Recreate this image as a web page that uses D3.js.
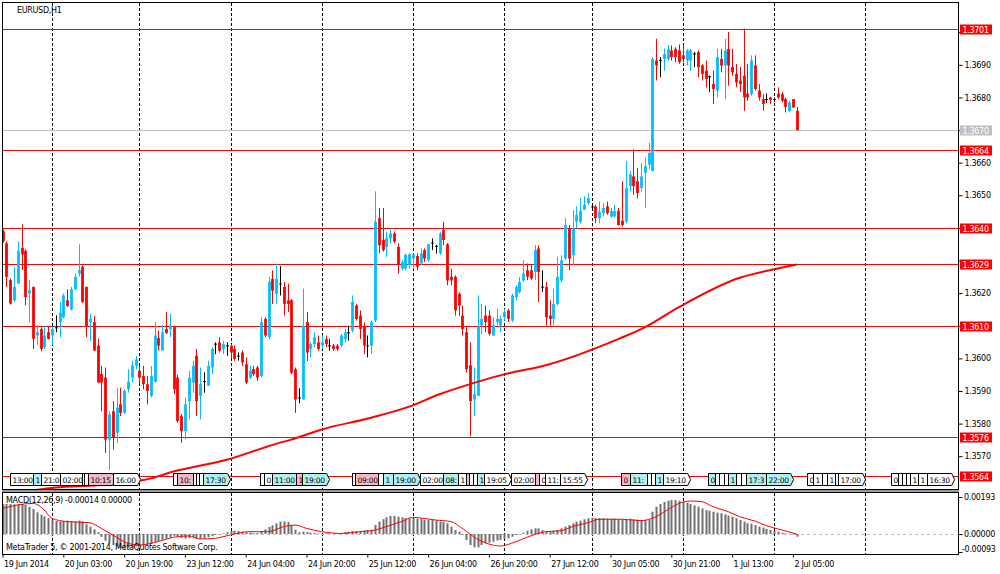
<!DOCTYPE html>
<html>
<head>
<meta charset="utf-8">
<script src="https://d3js.org/d3.v7.min.js"></script>
<style>
	html, body { margin: 0; padding: 0; background: #fff; }
	svg { display: block; font-family: "DejaVu Sans", sans-serif; }
	text { font-size: 8px; letter-spacing: -0.3px; }
</style>
</head>
<body>
<svg id="chart" width="1000" height="574"></svg>
<script>
// EURUSD H1, 19 Jun 2014 11:00 .. 2 Jul 2014 06:00, one entry per bar
var opens = [
	1.36389,1.36353,1.36240,1.36178,1.36229,1.36339,1.36330,1.36199,1.36219,1.36070,
	1.36090,1.36034,1.36080,1.36070,1.36095,1.36111,1.36126,1.36178,1.36150,1.36212,
	1.36260,1.36281,1.36219,1.36111,1.36111,1.36039,1.35952,1.35941,1.35751,1.35838,
	1.35772,1.35859,1.35833,1.35905,1.35941,1.35977,1.35962,1.35946,1.35921,1.35885,
	1.35928,1.36062,1.36024,1.36090,1.36090,1.36096,1.35941,1.35823,1.35777,1.35869,
	1.35926,1.36008,1.35885,1.35930,1.35916,1.35972,1.36045,1.36049,1.36029,1.36040,
	1.36039,1.36029,1.36008,1.36018,1.35982,1.35941,1.35967,1.35972,1.35946,1.36121,
	1.36065,1.36244,1.36198,1.36230,1.36219,1.36178,1.36178,1.35967,1.35880,1.35874,
	1.36111,1.36029,1.36044,1.36049,1.36039,1.36059,1.36040,1.36039,1.36039,1.36039,
	1.36059,1.36080,1.36085,1.36162,1.36131,1.36100,1.36040,1.36039,1.36116,1.36430,
	1.36363,1.36342,1.36368,1.36383,1.36342,1.36275,1.36275,1.36286,1.36306,1.36314,
	1.36291,1.36332,1.36301,1.36355,1.36345,1.36322,1.36394,1.36350,1.36250,1.36250,
	1.36198,1.36131,1.36080,1.35979,1.35874,1.35885,1.36101,1.36131,1.36131,1.36070,
	1.36111,1.36101,1.36126,1.36147,1.36116,1.36188,1.36203,1.36239,1.36270,1.36270,
	1.36265,1.36337,1.36220,1.36219,1.36131,1.36121,1.36167,1.36239,1.36306,1.36399,
	1.36316,1.36419,1.36419,1.36456,1.36476,1.36466,1.36466,1.36430,1.36445,1.36466,
	1.36435,1.36435,1.36452,1.36422,1.36420,1.36528,1.36558,1.36543,1.36522,1.36569,
	1.36594,1.36574,1.36913,1.36915,1.36918,1.36918,1.36944,1.36949,1.36944,1.36929,
	1.36913,1.36913,1.36935,1.36939,1.36898,1.36882,1.36865,1.36841,1.36821,1.36918,
	1.36898,1.36949,1.36893,1.36872,1.36852,1.36867,1.36812,1.36810,1.36898,1.36821,
	1.36795,1.36795,1.36800,1.36795,1.36812,1.36810,1.36795,1.36759,1.36795,1.36759
];
var highs = [
	1.36395,1.36358,1.36245,1.36281,1.36358,1.36411,1.36335,1.36240,1.36220,1.36101,
	1.36095,1.36101,1.36099,1.36099,1.36132,1.36173,1.36199,1.36212,1.36219,1.36260,
	1.36350,1.36285,1.36220,1.36137,1.36130,1.36060,1.35977,1.35972,1.35838,1.35869,
	1.35910,1.35910,1.35905,1.35967,1.35993,1.36008,1.35977,1.35977,1.35946,1.35977,
	1.36111,1.36085,1.36101,1.36142,1.36137,1.36100,1.35950,1.35830,1.35880,1.35962,
	1.35993,1.36029,1.35972,1.35957,1.35993,1.36034,1.36049,1.36065,1.36054,1.36049,
	1.36044,1.36039,1.36018,1.36024,1.36003,1.35977,1.35977,1.35977,1.36126,1.36126,
	1.36250,1.36270,1.36291,1.36283,1.36234,1.36229,1.36182,1.35972,1.35908,1.36214,
	1.36142,1.36049,1.36080,1.36070,1.36070,1.36070,1.36059,1.36044,1.36044,1.36075,
	1.36090,1.36100,1.36193,1.36167,1.36147,1.36111,1.36070,1.36116,1.36512,1.36461,
	1.36461,1.36389,1.36394,1.36389,1.36353,1.36301,1.36322,1.36322,1.36322,1.36322,
	1.36337,1.36337,1.36350,1.36368,1.36348,1.36389,1.36419,1.36353,1.36275,1.36255,
	1.36203,1.36162,1.36100,1.36049,1.35972,1.36193,1.36167,1.36162,1.36147,1.36126,
	1.36152,1.36131,1.36152,1.36152,1.36198,1.36224,1.36249,1.36301,1.36291,1.36286,
	1.36347,1.36347,1.36270,1.36234,1.36178,1.36214,1.36311,1.36316,1.36430,1.36409,
	1.36455,1.36466,1.36491,1.36497,1.36507,1.36470,1.36471,1.36481,1.36476,1.36481,
	1.36461,1.36471,1.36461,1.36543,1.36605,1.36574,1.36641,1.36584,1.36599,1.36615,
	1.36661,1.36924,1.36980,1.36924,1.36950,1.36960,1.36960,1.36954,1.36963,1.36960,
	1.36949,1.36949,1.36939,1.36944,1.36903,1.36913,1.36867,1.36882,1.36949,1.36949,
	1.36980,1.37001,1.36949,1.36903,1.36893,1.37011,1.36903,1.36929,1.36929,1.36841,
	1.36810,1.36812,1.36802,1.36800,1.36831,1.36816,1.36800,1.36790,1.36795,1.36771
];
var lows = [
	1.36355,1.36219,1.36165,1.36173,1.36229,1.36271,1.36163,1.36111,1.36029,1.36041,
	1.36022,1.36029,1.36058,1.36041,1.36080,1.36065,1.36122,1.36158,1.36147,1.36208,
	1.36250,1.36170,1.36065,1.36054,1.36022,1.35924,1.35838,1.35710,1.35658,1.35720,
	1.35741,1.35823,1.35830,1.35895,1.35926,1.35967,1.35921,1.35905,1.35859,1.35880,
	1.35926,1.36024,1.36024,1.36075,1.36065,1.35890,1.35802,1.35741,1.35751,1.35813,
	1.35895,1.35823,1.35813,1.35895,1.35916,1.35952,1.36013,1.36018,1.36013,1.36008,
	1.35998,1.35993,1.35993,1.35977,1.35921,1.35936,1.35946,1.35931,1.35941,1.36065,
	1.36060,1.36167,1.36167,1.36193,1.36131,1.36142,1.35951,1.35833,1.35862,1.35874,
	1.35992,1.36003,1.36034,1.36023,1.36029,1.36034,1.36023,1.36023,1.36023,1.36034,
	1.36049,1.36054,1.36080,1.36116,1.36059,1.36013,1.36003,1.36013,1.36111,1.36322,
	1.36327,1.36311,1.36353,1.36353,1.36260,1.36270,1.36270,1.36275,1.36275,1.36270,
	1.36286,1.36296,1.36296,1.36332,1.36322,1.36317,1.36347,1.36224,1.36224,1.36131,
	1.36131,1.36070,1.35957,1.35761,1.35823,1.35885,1.36075,1.36080,1.36070,1.36070,
	1.36101,1.36080,1.36116,1.36111,1.36111,1.36178,1.36198,1.36234,1.36240,1.36240,
	1.36240,1.36173,1.36203,1.36101,1.36101,1.36101,1.36162,1.36234,1.36301,1.36270,
	1.36286,1.36399,1.36414,1.36456,1.36471,1.36460,1.36414,1.36414,1.36435,1.36440,
	1.36430,1.36432,1.36407,1.36404,1.36414,1.36512,1.36502,1.36491,1.36512,1.36461,
	1.36579,1.36574,1.36852,1.36862,1.36882,1.36913,1.36913,1.36908,1.36903,1.36908,
	1.36898,1.36882,1.36893,1.36862,1.36852,1.36831,1.36816,1.36780,1.36800,1.36877,
	1.36795,1.36836,1.36867,1.36831,1.36816,1.36759,1.36790,1.36805,1.36821,1.36790,
	1.36759,1.36782,1.36780,1.36785,1.36795,1.36785,1.36754,1.36754,1.36769,1.36699
];
var closes = [
	1.36360,1.36250,1.36168,1.36219,1.36330,1.36319,1.36188,1.36209,1.36060,1.36080,
	1.36029,1.36070,1.36060,1.36090,1.36095,1.36140,1.36193,1.36160,1.36212,1.36250,
	1.36271,1.36173,1.36096,1.36121,1.36024,1.35926,1.35926,1.35751,1.35828,1.35756,
	1.35849,1.35833,1.35900,1.35929,1.35979,1.35997,1.35941,1.35921,1.35900,1.35946,
	1.36070,1.36039,1.36080,1.36078,1.36101,1.35905,1.35808,1.35777,1.35859,1.35941,
	1.35977,1.35869,1.35921,1.35930,1.35977,1.36029,1.36045,1.36024,1.36044,1.36040,
	1.36018,1.35998,1.36008,1.35988,1.35926,1.35962,1.35952,1.35941,1.36111,1.36070,
	1.36235,1.36208,1.36244,1.36230,1.36167,1.36167,1.35956,1.35874,1.35880,1.36100,
	1.36018,1.36044,1.36065,1.36029,1.36049,1.36044,1.36040,1.36029,1.36029,1.36070,
	1.36080,1.36080,1.36173,1.36121,1.36090,1.36039,1.36040,1.36111,1.36419,1.36347,
	1.36332,1.36368,1.36383,1.36358,1.36286,1.36296,1.36317,1.36319,1.36319,1.36281,
	1.36322,1.36306,1.36350,1.36355,1.36345,1.36383,1.36363,1.36239,1.36239,1.36147,
	1.36162,1.36090,1.35967,1.35869,1.35890,1.36100,1.36121,1.36111,1.36075,1.36101,
	1.36121,1.36121,1.36142,1.36121,1.36193,1.36219,1.36234,1.36260,1.36250,1.36245,
	1.36332,1.36265,1.36220,1.36126,1.36121,1.36167,1.36250,1.36301,1.36409,1.36306,
	1.36399,1.36440,1.36452,1.36471,1.36491,1.36466,1.36430,1.36450,1.36461,1.36445,
	1.36452,1.36452,1.36409,1.36409,1.36522,1.36564,1.36528,1.36507,1.36558,1.36589,
	1.36630,1.36918,1.36898,1.36915,1.36933,1.36949,1.36924,1.36924,1.36908,1.36918,
	1.36944,1.36944,1.36935,1.36893,1.36872,1.36857,1.36865,1.36826,1.36924,1.36898,
	1.36944,1.36898,1.36877,1.36846,1.36841,1.36800,1.36800,1.36913,1.36826,1.36800,
	1.36780,1.36795,1.36792,1.36795,1.36800,1.36790,1.36771,1.36785,1.36769,1.36700
];

// MACD(12,26,9) main line, shown as histogram
var macdMain = [
	0.00153,0.00155,0.00155,0.00153,0.00153,0.00155,0.00150,0.00140,0.00129,0.00112,
	0.00100,0.00091,0.00082,0.00072,0.00067,0.00065,0.00067,0.00069,0.00067,0.00065,
	0.00069,0.00065,0.00050,0.00038,0.00024,0.00009,-0.00015,-0.00034,-0.00048,-0.00058,
	-0.00065,-0.00072,-0.00076,-0.00072,-0.00069,-0.00065,-0.00062,-0.00058,-0.00055,-0.00050,
	-0.00040,-0.00036,-0.00030,-0.00024,-0.00017,-0.00009,-0.00012,-0.00020,-0.00024,-0.00022,
	-0.00019,-0.00024,-0.00024,-0.00022,-0.00017,-0.00010,-0.00005,-0.00002,0.00003,0.00009,
	0.00015,0.00017,0.00015,0.00012,0.00009,0.00007,0.00005,0.00005,0.00015,0.00024,
	0.00036,0.00045,0.00055,0.00064,0.00065,0.00062,0.00045,0.00022,0.00009,0.00012,
	0.00010,0.00007,0.00005,0.00003,0.00002,0.00003,0.00003,0.00002,0.00002,0.00004,
	0.00010,0.00012,0.00015,0.00015,0.00013,0.00018,0.00020,0.00022,0.00046,0.00064,
	0.00076,0.00086,0.00093,0.00093,0.00089,0.00086,0.00082,0.00082,0.00080,0.00079,
	0.00079,0.00074,0.00072,0.00072,0.00069,0.00064,0.00062,0.00055,0.00038,0.00020,
	0.00012,-0.00005,-0.00031,-0.00057,-0.00069,-0.00069,-0.00057,-0.00048,-0.00045,-0.00040,
	-0.00034,-0.00031,-0.00027,-0.00022,-0.00014,-0.00005,0.00000,0.00007,0.00017,0.00024,
	0.00029,0.00029,0.00020,0.00012,0.00012,0.00017,0.00020,0.00029,0.00038,0.00046,
	0.00055,0.00064,0.00069,0.00076,0.00081,0.00084,0.00082,0.00082,0.00082,0.00080,
	0.00079,0.00079,0.00076,0.00074,0.00076,0.00079,0.00076,0.00074,0.00072,0.00072,
	0.00074,0.00115,0.00141,0.00155,0.00165,0.00172,0.00175,0.00175,0.00172,0.00167,
	0.00162,0.00155,0.00148,0.00141,0.00132,0.00124,0.00120,0.00115,0.00110,0.00107,
	0.00101,0.00095,0.00089,0.00081,0.00072,0.00064,0.00055,0.00052,0.00046,0.00038,
	0.00033,0.00026,0.00021,0.00015,0.00012,0.00007,0.00003,0.00001,-0.00004,-0.00014
];
// signal line, read at these bars
var signalBars = [0,8,11,13,17,23,26,29,33,36,41,45,49,52,56,60,65,70,74,77,80,84,89,94,98,101,
	105,108,111,114,118,121,125,128,131,134,138,143,147,150,154,157,163,168,171,175,178,181,184,187,
	191,194,198,201,205,209];
var signalVals = [0.00132,0.00158,0.00124,0.00081,0.00064,0.00058,0.00029,-0.00005,-0.00048,-0.00057,
	-0.00039,-0.00017,-0.00010,-0.00026,-0.00022,-0.00005,0.00012,0.00012,0.00038,0.00046,0.00029,
	0.00012,0.00003,0.00012,0.00020,0.00038,0.00064,0.00086,0.00080,0.00072,0.00064,0.00029,-0.00027,
	-0.00052,-0.00062,-0.00048,-0.00017,0.00012,0.00017,0.00038,0.00058,0.00076,0.00076,0.00069,
	0.00081,0.00124,0.00158,0.00170,0.00167,0.00141,0.00115,0.00089,0.00067,0.00043,0.00021,0.00000];

// moving average, read at these bars
var maBars = [0,14,25,34,38,45,59,72,76,84,97,107,115,125,132,143,162,169,178,194,203,209];
var maVals = [1.35580,1.35604,1.35611,1.35622,1.35629,1.35653,1.35689,1.35738,1.35751,1.35782,1.35818,
	1.35852,1.35890,1.35928,1.35951,1.35979,1.36059,1.36095,1.36157,1.36247,1.36273,1.36288];

var levels = [1.3701, 1.3664, 1.3640, 1.3629, 1.3610, 1.3576, 1.3564];
var bidPrice = 1.3670;
var priceTicks = [1.3570,1.3580,1.3590,1.3600,1.3610,1.3620,1.3630,1.3640,1.3650,1.3660,1.3670,1.3680,1.3690,1.3700];
var macdTicks = [0.00193, 0, -0.00093];

var timeBars = [0,16,32,48,64,80,96,112,128,144,160,176,192,208];
var timeLabels = ['19 Jun 2014','20 Jun 03:00','20 Jun 19:00','23 Jun 12:00','24 Jun 04:00','24 Jun 20:00',
	'25 Jun 12:00','26 Jun 04:00','26 Jun 20:00','27 Jun 12:00','30 Jun 05:00','30 Jun 21:00','1 Jul 13:00','2 Jul 05:00'];
var dayStarts = [13,36,60,84,108,132,155,179,203,227];

// calendar events (position in bars), time text, importance 0/1/2
var eventBars = [2.0,8.0,10.0,15.0,20.8,21.4,22.6,29.0,44.9,45.9,50.1,50.9,51.7,52.8,67.8,68.8,70.9,77.2,78.8,
	92.0,92.8,98.8,100.1,102.8,109.9,115.9,119.9,122.0,122.8,123.8,124.9,126.7,133.8,140.1,141.2,142.8,146.7,
	162.8,165.1,169.6,170.7,171.7,173.8,185.7,187.5,188.6,189.9,191.0,193.1,194.4,195.7,200.9,211.7,213.3,
	215.7,217.0,219.1,219.9,233.8,235.7,236.8,237.8,238.9,240.9,243.3];
var eventTimes = ['13:00','19:00','21:00','02:00','07:45','08:30','10:15','16:00','09:00','10:00','14:00','15:00',
	'15:45','17:30','08:00','09:00','11:00','17:00','19:00','08:00','09:00','14:30','16:00','19:00','02:00','08:45',
	'12:00','14:00','14:30','15:45','17:00','19:05','02:00','08:00','09:00','11:00','15:55','08:00','11:00','14:30',
	'15:45','16:00','19:10','06:00','08:15','09:30','11:00','12:00','14:00','15:30','17:30','22:00','08:00','10:00',
	'12:30','14:00','16:00','17:00','06:00','08:30','09:45','10:45','11:45','13:30','16:30'];
var eventKinds = [0,1,0,0,0,0,2,0,0,2,0,0,0,1,0,0,1,2,1,0,2,0,1,1,0,1,0,2,0,0,1,0,0,2,0,0,0,2,1,0,0,1,0,1,0,0,0,1,
	0,0,1,1,0,0,0,0,0,0,0,0,0,0,0,0,0];
var kindFill = ['#ffffff', '#b0f0f0', '#f4b8c8'];

var svg = d3.select('#chart');

var x = d3.scaleLinear().domain([0, 250]).range([2.5, 952.5]);
var y = d3.scaleLinear().domain([1.356026, 1.370926]).range([488, 2]);
var yM = d3.scaleLinear().domain([-0.00093, 0.00193]).range([552, 496.6]);

var px = function (i) { return Math.round(x(i)) + 0.5; };

var defs = svg.append('defs');
defs.append('clipPath').attr('id', 'clipMain')
	.append('rect').attr('x', 3).attr('y', 3).attr('width', 955).attr('height', 486);
defs.append('clipPath').attr('id', 'clipMacd')
	.append('rect').attr('x', 3).attr('y', 493).attr('width', 955).attr('height', 61);

// day separators through both windows
svg.append('g').selectAll('line')
	.data(dayStarts)
	.join('line')
		.attr('x1', px).attr('x2', px)
		.attr('y1', 3).attr('y2', 554)
		.attr('stroke', '#000')
		.attr('stroke-dasharray', '3,2');

var main = svg.append('g').attr('clip-path', 'url(#clipMain)');

main.append('line')
	.attr('x1', 3).attr('x2', 958)
	.attr('y1', Math.round(y(bidPrice)) + 0.5).attr('y2', Math.round(y(bidPrice)) + 0.5)
	.attr('stroke', '#c0c0c0');

main.selectAll('line.level')
	.data(levels)
	.join('line')
		.classed('level', true)
		.attr('x1', 3).attr('x2', 958)
		.attr('y1', function (d) { return Math.round(y(d)) + 0.5; })
		.attr('y2', function (d) { return Math.round(y(d)) + 0.5; })
		.attr('stroke', '#ff0000');

// candles
var bars = d3.range(opens.length);
var candleColor = function (i) {
	if (Math.abs(opens[i] - closes[i]) < 0.000015) return '#000';
	return closes[i] > opens[i] ? '#00bfff' : '#ff0000';
};

main.append('g').selectAll('line')
	.data(bars)
	.join('line')
		.attr('x1', px).attr('x2', px)
		.attr('y1', function (i) { return y(highs[i]); })
		.attr('y2', function (i) { return y(lows[i]); })
		.attr('stroke', candleColor);

main.append('g').selectAll('rect')
	.data(bars)
	.join('rect')
		.attr('x', function (i) { return px(i) - 1.4; })
		.attr('width', 2.8)
		.attr('y', function (i) { return y(Math.max(opens[i], closes[i])); })
		.attr('height', function (i) { return Math.max(1, Math.abs(y(opens[i]) - y(closes[i]))); })
		.attr('fill', candleColor);

var maLine = d3.line()
	.x(function (d, k) { return x(maBars[k]); })
	.y(function (d) { return y(d); })
	.curve(d3.curveMonotoneX);

main.append('path')
	.datum(maVals)
	.attr('d', maLine)
	.attr('fill', 'none')
	.attr('stroke', '#ff0000')
	.attr('stroke-width', 2);

// calendar event markers: each box is drawn whole, the next one covers its tail,
// so only the part of the time text left uncovered is written
var evG = main.append('g');
eventBars.forEach(function (b, k) {
	var g = evG.append('g'),
		x0 = Math.round(x(b)) + 0.5,
		room = k < eventBars.length - 1 ? Math.round(x(eventBars[k + 1])) + 0.5 - x0 - 1.5 : 1e9,
		poly = g.append('polygon'),
		t = g.append('text')
			.attr('x', x0 + 2)
			.attr('y', 482.5)
			.style('font-size', '7.5px')
			.attr('fill', '#000')
			.text(eventTimes[k]),
		w = t.node().getComputedTextLength() + 4,
		shown = eventTimes[k];

	poly.attr('points', [[x0, 473.5], [x0 + w, 473.5], [x0 + w + 3, 479.5], [x0 + w, 485.5], [x0, 485.5]].join(' '))
		.attr('fill', kindFill[eventKinds[k]])
		.attr('stroke', '#000')
		.attr('stroke-width', 1);

	while (shown.length && t.node().getComputedTextLength() > room) {
		shown = shown.slice(0, -1);
		t.text(shown);
	}
	if (!shown.length) t.remove();
});

svg.append('text')
	.attr('x', 17).attr('y', 12.5)
	.text('EURUSD,H1');

// MACD window
var macd = svg.append('g').attr('clip-path', 'url(#clipMacd)');

macd.append('line')
	.attr('x1', 3).attr('x2', 958)
	.attr('y1', Math.round(yM(0)) + 0.5).attr('y2', Math.round(yM(0)) + 0.5)
	.attr('stroke', '#c0c0c0')
	.attr('stroke-dasharray', '3,3');

macd.append('g').selectAll('rect')
	.data(bars)
	.join('rect')
		.attr('x', function (i) { return px(i) - 1; })
		.attr('width', 2)
		.attr('y', function (i) { return Math.min(yM(0), yM(macdMain[i])); })
		.attr('height', function (i) { return Math.abs(yM(macdMain[i]) - yM(0)); })
		.attr('fill', '#707070');

var sigLine = d3.line()
	.x(function (d, k) { return x(signalBars[k]); })
	.y(function (d) { return yM(d); })
	.curve(d3.curveMonotoneX);

macd.append('path')
	.datum(signalVals)
	.attr('d', sigLine)
	.attr('fill', 'none')
	.attr('stroke', '#ff0000')
	.attr('stroke-width', 1);

svg.append('text')
	.attr('x', 6).attr('y', 503)
	.text('MACD(12,26,9) ' + macdMain[macdMain.length - 1].toFixed(5) + ' ' + signalVals[signalVals.length - 1].toFixed(5));

svg.append('text')
	.attr('x', 6).attr('y', 550)
	.text('MetaTrader 5, \u00a9 2001-2014, MetaQuotes Software Corp.');

// frames
svg.append('rect')
	.attr('x', 2.5).attr('y', 2.5).attr('width', 956).attr('height', 487)
	.attr('fill', 'none').attr('stroke', '#000');
svg.append('rect')
	.attr('x', 2).attr('y', 490).attr('width', 957).attr('height', 2)
	.attr('fill', '#9a9a9a');
svg.append('rect')
	.attr('x', 2.5).attr('y', 492.5).attr('width', 956).attr('height', 62)
	.attr('fill', 'none').attr('stroke', '#000');

// price scale
var priceAxis = svg.append('g')
	.attr('transform', 'translate(958.5,0)')
	.call(d3.axisRight(y).tickValues(priceTicks).tickSize(4).tickPadding(2).tickFormat(d3.format('.4f')));
priceAxis.select('.domain').remove();
priceAxis.attr('font-size', null).attr('font-family', null);
priceAxis.selectAll('.tick text')
	.attr('fill', '#000')
	.attr('display', function (d) {
		var near = levels.concat([bidPrice]).some(function (l) { return Math.abs(y(l) - y(d)) < 10; });
		return near ? 'none' : null;
	});

var tagData = levels.map(function (v) { return { v: v, bg: '#ff0000' }; })
	.concat([{ v: bidPrice, bg: '#c0c0c0' }]);
var tags = svg.append('g').selectAll('g')
	.data(tagData)
	.join('g')
		.attr('transform', function (d) { return 'translate(960,' + Math.round(y(d.v)) + ')'; });
tags.append('rect')
	.attr('x', 0).attr('y', -4.5).attr('width', 32).attr('height', 10)
	.attr('fill', function (d) { return d.bg; });
tags.append('text')
	.attr('x', 2.5).attr('y', 3.5)
	.attr('fill', '#fff')
	.text(function (d) { return d.v.toFixed(4); });

// MACD scale
var macdAxis = svg.append('g');
macdAxis.selectAll('line')
	.data(macdTicks)
	.join('line')
		.attr('x1', 958.5).attr('x2', 962.5)
		.attr('y1', function (d) { return Math.round(yM(d)) + 0.5; })
		.attr('y2', function (d) { return Math.round(yM(d)) + 0.5; })
		.attr('stroke', '#000');
macdAxis.selectAll('text')
	.data(macdTicks)
	.join('text')
		.attr('x', function (d) { return d < 0 ? 962 : 964; })
		.attr('y', function (d) { return Math.max(500, Math.min(552, yM(d) + 3)); })
		.text(function (d) { return d.toFixed(5); });

// time scale
var timeAxis = svg.append('g')
	.attr('transform', 'translate(0,554.5)')
	.call(d3.axisBottom(x).tickValues(timeBars).tickSize(3).tickPadding(4)
		.tickFormat(function (d, k) { return timeLabels[k]; }));
timeAxis.select('.domain').remove();
timeAxis.attr('font-size', null).attr('font-family', null);
timeAxis.selectAll('.tick text')
	.attr('fill', '#000')
	.attr('text-anchor', 'start')
	.attr('x', 1);
</script>
</body>
</html>
